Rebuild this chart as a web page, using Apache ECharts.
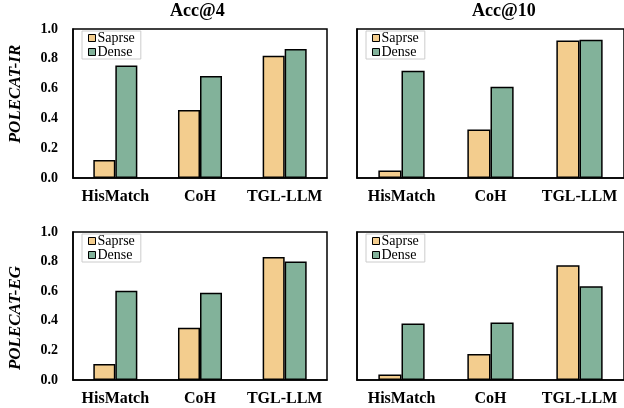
<!DOCTYPE html>
<html>
<head>
<meta charset="utf-8">
<script src="https://cdn.jsdelivr.net/npm/echarts@6/dist/echarts.min.js"></script>
<style>html,body{margin:0;padding:0;background:#fff}#c{width:624px;height:408px}</style>
</head>
<body>
<div id="c"></div>
<script>
const categories = ['HisMatch', 'CoH', 'TGL-LLM'];
const seriesNames = ['Saprse', 'Dense'];
const colTitles = ['Acc@4', 'Acc@10'];
const rowTitles = ['POLECAT-IR', 'POLECAT-EG'];
const yTicks = [0, 0.2, 0.4, 0.6, 0.8, 1.0];

const irAcc4Sparse = [0.12, 0.456, 0.82];
const irAcc4Dense = [0.755, 0.685, 0.866];
const irAcc10Sparse = [0.05, 0.325, 0.922];
const irAcc10Dense = [0.72, 0.613, 0.928];
const egAcc4Sparse = [0.108, 0.353, 0.831];
const egAcc4Dense = [0.603, 0.589, 0.80];
const egAcc10Sparse = [0.038, 0.175, 0.775];
const egAcc10Dense = [0.382, 0.389, 0.634];

const panelData = [
  [irAcc4Sparse, irAcc4Dense],
  [irAcc10Sparse, irAcc10Dense],
  [egAcc4Sparse, egAcc4Dense],
  [egAcc10Sparse, egAcc10Dense]
];

const FONT = '"Liberation Serif", "Times New Roman", serif';
const colors = ['#F3CD8E', '#82B29A'];

const grids = [
  {left: 73, top: 29, width: 254, height: 149},
  {left: 357, top: 29, width: 270, height: 149},
  {left: 73, top: 232, width: 254, height: 148},
  {left: 357, top: 232, width: 270, height: 148}
];

const option = {
  animation: false,
  backgroundColor: '#fff',
  grid: grids.map(g => Object.assign({show: true, borderColor: '#000', borderWidth: 1.5, backgroundColor: 'transparent', containLabel: false}, g)),
  xAxis: grids.map((g, i) => ({
    type: 'category', gridIndex: i, data: categories,
    axisLine: {show: true, lineStyle: {color: '#000', width: 1.5}},
    axisTick: {show: false},
    axisLabel: {interval: 0, color: '#000', fontFamily: FONT, fontWeight: 'bold', fontSize: 16, margin: 11}
  })),
  yAxis: grids.map((g, i) => ({
    type: 'value', gridIndex: i, min: 0, max: 1, interval: 0.2,
    splitLine: {show: false},
    axisLine: {show: true, lineStyle: {color: '#000', width: 1.5}},
    axisTick: {show: false},
    axisLabel: {show: i % 2 === 0, color: '#000', fontFamily: FONT, fontWeight: 'bold', fontSize: 14, margin: 15,
      formatter: v => yTicks.includes(Math.round(v * 10) / 10) ? v.toFixed(1) : ''}
  })),
  legend: grids.map((g, i) => ({
    orient: 'vertical', left: g.left + 9, top: g.top + 2,
    data: seriesNames,
    itemWidth: 7, itemHeight: 7, itemGap: 0,
    padding: [0, 6, 0, 6],
    borderColor: '#cccccc', borderWidth: 1, backgroundColor: '#fff',
    textStyle: {fontFamily: FONT, fontSize: 14, color: '#000', lineHeight: 13, padding: [0, 0, 0, -3]},
    itemStyle: {borderColor: '#000', borderWidth: 1},
    icon: 'rect'
  })),
  series: [],
  graphic: [
    {type: 'text', left: 170, top: 2, style: {text: colTitles[0], font: 'bold 18px ' + FONT, fill: '#000'}},
    {type: 'text', left: 472, top: 2, style: {text: colTitles[1], font: 'bold 18px ' + FONT, fill: '#000'}},
    {type: 'text', x: 16, y: 94, rotation: Math.PI / 2, style: {text: rowTitles[0], font: 'italic bold 17px ' + FONT, fill: '#000', align: 'center', verticalAlign: 'middle'}},
    {type: 'text', x: 16, y: 318, rotation: Math.PI / 2, style: {text: rowTitles[1], font: 'italic bold 17px ' + FONT, fill: '#000', align: 'center', verticalAlign: 'middle'}}
  ]
};

panelData.forEach((pair, i) => {
  pair.forEach((vals, s) => {
    option.series.push({
      type: 'bar', name: seriesNames[s], xAxisIndex: i, yAxisIndex: i,
      data: vals, barWidth: '26%', barGap: '0%',
      itemStyle: {color: colors[s], borderColor: '#000', borderWidth: 1.5}
    });
  });
});

const chart = echarts.init(document.getElementById('c'), null, {renderer: 'canvas'});
chart.setOption(option);
</script>
</body>
</html>
